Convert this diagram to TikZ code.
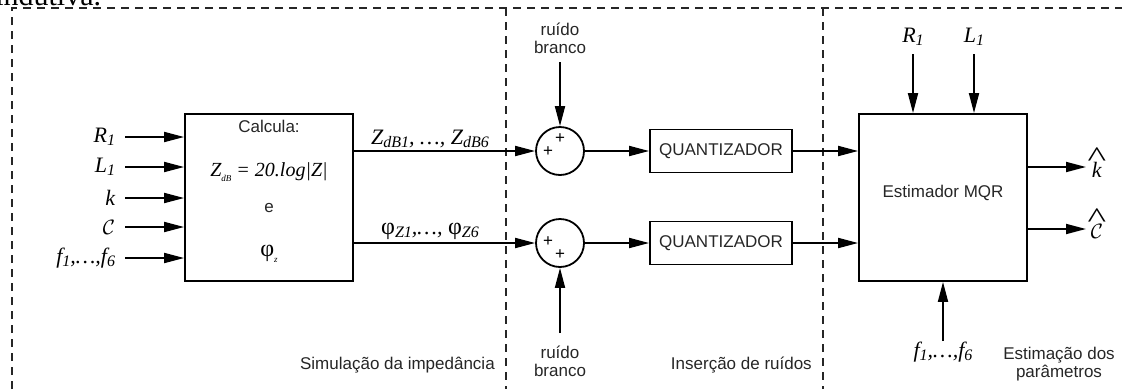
\documentclass[tikz,border=0pt]{standalone}
\usepackage{fontspec}
\setmainfont{Liberation Serif}
\setsansfont{Liberation Sans}
\usetikzlibrary{arrows.meta,calc}
\newcommand\lw[1]{\raisebox{-0.15em}{\fontsize{16}{16}\selectfont\itshape #1}}
\newcommand\smsub[1]{\raisebox{-0.25em}{\fontsize{9}{9}\selectfont\itshape #1}}
\newcommand\hatt[1]{\setbox0\hbox{#1}\rlap{\hbox to \wd0{\hss\raisebox{0.5em}{\scalebox{1.8}[1.3]{\upshape\^{}}}\hss}}\box0}
\begin{document}
\begin{tikzpicture}[x=1pt,y=-1pt,
  line width=1.8pt,
  arr/.style={-{Triangle[length=20pt,width=10pt]}, line width=1.8pt},
  region/.style={dash pattern=on 8pt off 6pt, line width=1.8pt, draw=black!85},
  blk/.style={draw, line width=1.8pt, inner sep=0pt},
  sans/.style={font=\fontsize{17}{18}\selectfont\sffamily, align=center, text=black!85},
  mth/.style={font=\fontsize{22}{22}\selectfont\itshape},
  phi/.style={font=\fontsize{24}{24}\selectfont\upshape},
  plus/.style={font=\fontsize{17}{17}\selectfont\sffamily, inner sep=0pt},
  sumnode/.style={draw, circle, minimum size=48pt, inner sep=0pt, line width=1.8pt}
]
\useasboundingbox (0,0) rectangle (1122,389);
\clip (0,0) rectangle (1122,389);
\node[anchor=base east, font=\fontsize{30}{30}\selectfont, inner sep=0pt] (cap) at (102,5) {indutiva.};

% regions
\coordinate (rA) at (12,389);
\coordinate (rB) at (12,8);
\coordinate (rC) at (1130,8);
\coordinate (rD) at (506,8);
\coordinate (rE) at (506,389);
\coordinate (rF) at (823,8);
\coordinate (rG) at (823,389);
\draw[region] (rA) -- (rB) -- (rC);
\draw[region] (rD) -- (rE);
\draw[region] (rF) -- (rG);

% calc block
\node[blk, minimum width=168pt, minimum height=167pt] (calc) at (269,197.5) {};
\node[sans] (t1) at (269,126) {Calcula:};
\node[mth, font=\fontsize{20}{20}\selectfont\itshape] (t2) at (269,172) {Z\smsub{dB}~=~20.log|Z|};
\node[sans] (t3) at (269,208) {e};
\node[phi] (t4) at (269,254) {φ\smsub{z}};

% inputs
\foreach \n/\y/\t in {iR/137/{R\lw{1}}, iL/167/{L\lw{1}}, ik/198/{k}, iC/227/{$\mathcal{C}$}, if/258/{f\lw{1},\ldots,f\lw{6}}}{
  \coordinate (\n) at (125,\y);
  \node[mth, anchor=east, inner sep=0pt] (\n l) at (116,\y) {\t};
  \draw[arr] (\n) -- (\n -| calc.west);
}

% summing junctions
\node[sumnode] (s1) at (560,151) {};
\node[sumnode] (s2) at (560,243) {};
\node[plus] (p1a) at ($(s1)+(0,-12)$) {+};
\node[plus] (p1b) at ($(s1)+(-12,1)$) {+};
\node[plus] (p2a) at ($(s2)+(-12,-1)$) {+};
\node[plus] (p2b) at ($(s2)+(0,12)$) {+};

\draw[arr] (calc.east |- s1.west) -- (s1.west);
\draw[arr] (calc.east |- s2.west) -- (s2.west);
\node[mth] (zl) at (430,139) {Z\lw{dB1}, \ldots, Z\lw{dB6}};
\node[mth] (pl) at (430,231) {{\fontsize{24}{24}\selectfont\upshape φ}\lw{Z1},\ldots, {\fontsize{24}{24}\selectfont\upshape φ}\lw{Z6}};

% noise
\node[sans] (nt1) at (560,38) {ruído\\branco};
\coordinate (n1) at (560,62);
\draw[arr] (n1) -- (s1.north);
\coordinate (n2) at (560,333);
\draw[arr] (n2) -- (s2.south);
\node[sans] (nt2) at (560,361) {ruído\\branco};

% quantizers
\node[blk, sans, minimum width=142pt, minimum height=43pt] (q1) at (721,151) {QUANTIZADOR};
\node[blk, sans, minimum width=142pt, minimum height=43pt] (q2) at (721,243) {QUANTIZADOR};
\draw[arr] (s1.east) -- (q1.west);
\draw[arr] (s2.east) -- (q2.west);

% estimator
\node[blk, sans, minimum width=168pt, minimum height=167pt] (est) at (943,197.5) {};
\node[sans] (et) at (943,193) {Estimador MQR};
\draw[arr] (q1.east) -- (q1.east -| est.west);
\draw[arr] (q2.east) -- (q2.east -| est.west);

\coordinate (eR) at (913,54);
\coordinate (eL) at (974,54);
\node[mth] (eRl) at (913,37) {R\lw{1}};
\node[mth] (eLl) at (974,37) {L\lw{1}};
\draw[arr] (eR) -- (eR |- est.north);
\draw[arr] (eL) -- (eL |- est.north);

\coordinate (ok) at (1086,167);
\coordinate (oC) at (1086,229);
\draw[arr] (ok -| est.east) -- (ok);
\draw[arr] (oC -| est.east) -- (oC);
\node[mth, anchor=west, inner sep=0pt] (okl) at (1091,163) {\hatt{k}};
\node[mth, anchor=west, inner sep=0pt] (oCl) at (1090,224) {\hatt{$\mathcal{C}$}};

\coordinate (ef) at (943,341);
\draw[arr] (ef) -- (est.south);
\node[mth] (efl) at (943,352) {f\lw{1},\ldots,f\lw{6}};

% region captions
\node[sans] (c3) at (1059,364) {Estimação dos\\parâmetros};
\node[sans, anchor=east] (c1) at (499,365) {Simulação da impedância};
\node[sans, anchor=east] (c2) at (816,365) {Inserção de ruídos};
\end{tikzpicture}
\end{document}
